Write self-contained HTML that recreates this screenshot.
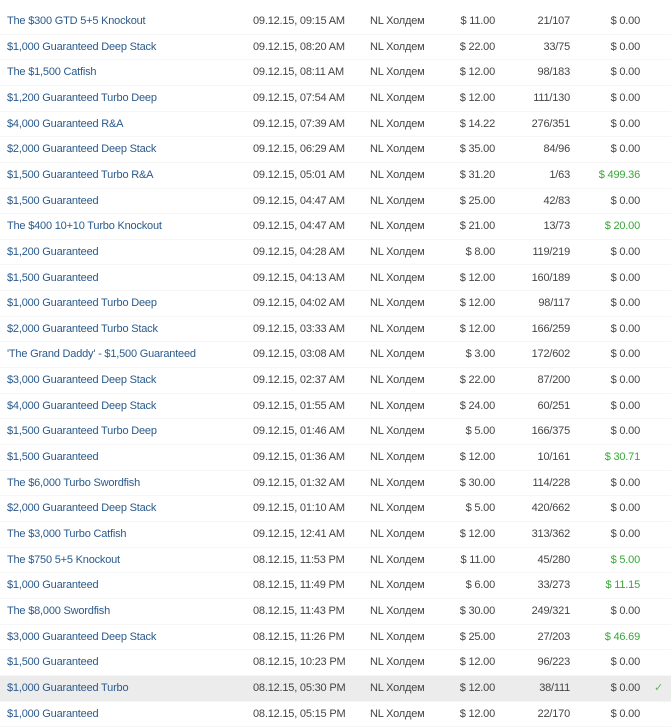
<!DOCTYPE html>
<html><head><meta charset="utf-8"><style>
body{margin:0;width:671px;height:710px;overflow:hidden;background:#fff;font-family:"Liberation Sans",sans-serif;font-size:11px;letter-spacing:-0.2px;color:#444;}
.r{position:absolute;left:0;width:671px;height:25.65px;line-height:25.65px;border-bottom:1px solid #f6f6f6;box-sizing:border-box;}
.r span{position:absolute;white-space:nowrap;}
.n{left:7px;color:#2a5a8c;}
.d{left:253px;}
.g{left:370px;}
.b{right:176px;}
.e{right:101px;}
.p{right:31px;}
.w{color:#3aa53a;}
.hl{background:#ececec;}
.ck{right:8px;color:#5cb85c;}
</style></head><body>
<div id="t"></div>
<script>
var rows=[
["The $300 GTD 5+5 Knockout","09.12.15, 09:15 AM","$ 11.00","21/107","$ 0.00"],
["$1,000 Guaranteed Deep Stack","09.12.15, 08:20 AM","$ 22.00","33/75","$ 0.00"],
["The $1,500 Catfish","09.12.15, 08:11 AM","$ 12.00","98/183","$ 0.00"],
["$1,200 Guaranteed Turbo Deep","09.12.15, 07:54 AM","$ 12.00","111/130","$ 0.00"],
["$4,000 Guaranteed R&A","09.12.15, 07:39 AM","$ 14.22","276/351","$ 0.00"],
["$2,000 Guaranteed Deep Stack","09.12.15, 06:29 AM","$ 35.00","84/96","$ 0.00"],
["$1,500 Guaranteed Turbo R&A","09.12.15, 05:01 AM","$ 31.20","1/63","$ 499.36"],
["$1,500 Guaranteed","09.12.15, 04:47 AM","$ 25.00","42/83","$ 0.00"],
["The $400 10+10 Turbo Knockout","09.12.15, 04:47 AM","$ 21.00","13/73","$ 20.00"],
["$1,200 Guaranteed","09.12.15, 04:28 AM","$ 8.00","119/219","$ 0.00"],
["$1,500 Guaranteed","09.12.15, 04:13 AM","$ 12.00","160/189","$ 0.00"],
["$1,000 Guaranteed Turbo Deep","09.12.15, 04:02 AM","$ 12.00","98/117","$ 0.00"],
["$2,000 Guaranteed Turbo Stack","09.12.15, 03:33 AM","$ 12.00","166/259","$ 0.00"],
["'The Grand Daddy' - $1,500 Guaranteed","09.12.15, 03:08 AM","$ 3.00","172/602","$ 0.00"],
["$3,000 Guaranteed Deep Stack","09.12.15, 02:37 AM","$ 22.00","87/200","$ 0.00"],
["$4,000 Guaranteed Deep Stack","09.12.15, 01:55 AM","$ 24.00","60/251","$ 0.00"],
["$1,500 Guaranteed Turbo Deep","09.12.15, 01:46 AM","$ 5.00","166/375","$ 0.00"],
["$1,500 Guaranteed","09.12.15, 01:36 AM","$ 12.00","10/161","$ 30.71"],
["The $6,000 Turbo Swordfish","09.12.15, 01:32 AM","$ 30.00","114/228","$ 0.00"],
["$2,000 Guaranteed Deep Stack","09.12.15, 01:10 AM","$ 5.00","420/662","$ 0.00"],
["The $3,000 Turbo Catfish","09.12.15, 12:41 AM","$ 12.00","313/362","$ 0.00"],
["The $750 5+5 Knockout","08.12.15, 11:53 PM","$ 11.00","45/280","$ 5.00"],
["$1,000 Guaranteed","08.12.15, 11:49 PM","$ 6.00","33/273","$ 11.15"],
["The $8,000 Swordfish","08.12.15, 11:43 PM","$ 30.00","249/321","$ 0.00"],
["$3,000 Guaranteed Deep Stack","08.12.15, 11:26 PM","$ 25.00","27/203","$ 46.69"],
["$1,500 Guaranteed","08.12.15, 10:23 PM","$ 12.00","96/223","$ 0.00"],
["$1,000 Guaranteed Turbo","08.12.15, 05:30 PM","$ 12.00","38/111","$ 0.00"],
["$1,000 Guaranteed","08.12.15, 05:15 PM","$ 12.00","22/170","$ 0.00"]
];
var h="";
rows.forEach(function(r,i){
 var top=(9+25.65*i).toFixed(2);
 var win=r[4]!="$ 0.00";
 h+='<div class="r'+(i==26?' hl':'')+'" style="top:'+top+'px"><span class="n">'+r[0].replace(/&/g,'&amp;')+'</span><span class="d">'+r[1]+'</span><span class="g">NL Холдем</span><span class="b">'+r[2]+'</span><span class="e">'+r[3]+'</span><span class="p'+(win?' w':'')+'">'+r[4]+'</span>'+(i==26?'<span class="ck">✓</span>':'')+'</div>';
});
document.getElementById("t").innerHTML=h;
</script>
</body></html>
